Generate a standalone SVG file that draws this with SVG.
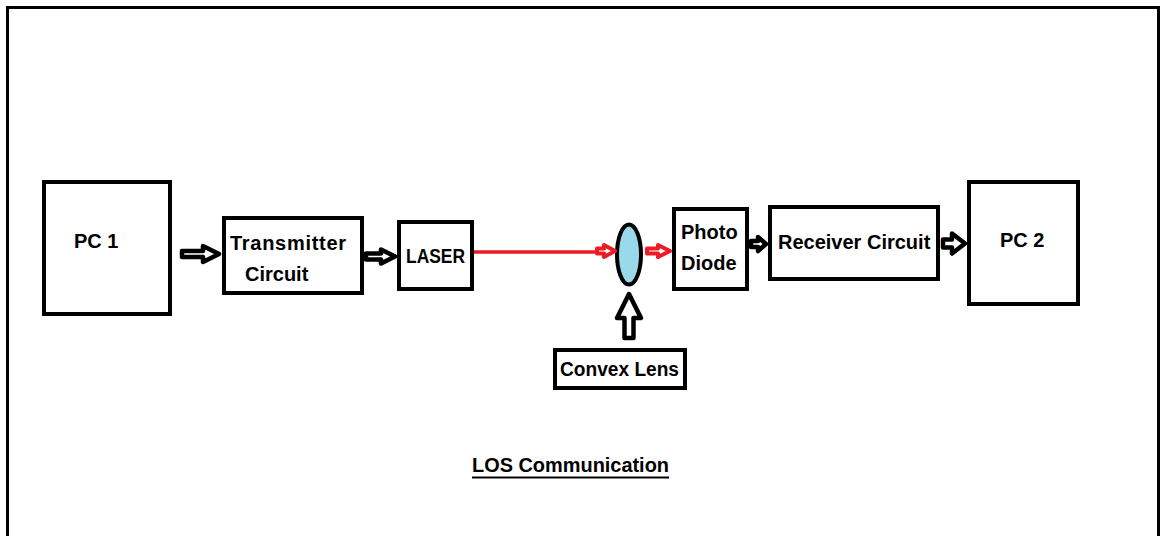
<svg xmlns="http://www.w3.org/2000/svg" width="1162" height="536" viewBox="0 0 1162 536">
<style>
.box{fill:#fff;stroke:#000;stroke-width:4}
.t{font-family:"Liberation Sans",Arial,sans-serif;font-weight:bold;font-size:20px;fill:#000}
.ba{fill:#fff;stroke:#000;stroke-width:4.5;stroke-linejoin:round}
.ra{fill:#fff;stroke:#ed1c24;stroke-width:4;stroke-linejoin:round}
</style>
<rect width="1162" height="536" fill="#fff"/>
<path d="M7.5,536 L7.5,7.5 L1158.5,7.5 L1158.5,536" fill="none" stroke="#000" stroke-width="3"/>
<g id="pc1"><rect class="box" x="44" y="182" width="126" height="132"/><text class="t" x="74" y="248" font-size="19">PC 1</text></g>
<g id="transmitter"><rect class="box" x="224" y="218" width="138" height="75"/><text class="t" x="230" y="250" textLength="116" font-size="20">Transmitter</text><text class="t" x="245" y="281">Circuit</text></g>
<g id="laser"><rect class="box" x="399" y="222" width="73" height="67"/><text class="t" x="406" y="263" font-size="17.5" textLength="59" lengthAdjust="spacingAndGlyphs">LASER</text></g>
<g id="lens"><ellipse cx="629" cy="254.5" rx="12" ry="30" fill="#99d9ea" stroke="#000" stroke-width="4"/></g>
<g id="photodiode"><rect class="box" x="674" y="209" width="73" height="80"/><text class="t" x="681" y="239">Photo</text><text class="t" x="681" y="270">Diode</text></g>
<g id="receiver"><rect class="box" x="770" y="207" width="168" height="72"/><text class="t" x="778" y="249">Receiver Circuit</text></g>
<g id="pc2"><rect class="box" x="969" y="182" width="109" height="122"/><text class="t" x="1000" y="247" font-size="19">PC 2</text></g>
<g id="convexlens"><rect class="box" x="555" y="350" width="130" height="38"/><text class="t" x="560" y="376" font-size="18" textLength="119" lengthAdjust="spacingAndGlyphs">Convex Lens</text></g>
<g id="title"><text class="t" x="472" y="472" font-size="18" textLength="197" lengthAdjust="spacingAndGlyphs">LOS Communication</text><line x1="472" y1="477.5" x2="669" y2="477.5" stroke="#000" stroke-width="2"/></g>
<g id="connectors">
<path class="ba" d="M182,251 L203,251 L203,246 L219,254 L203,262 L203,257 L182,257 Z"/>
<path class="ba" d="M366,253.5 L381,253.5 L381,249.5 L395,256.5 L381,263.5 L381,259.5 L366,259.5 Z"/>
<line x1="474" y1="252" x2="597" y2="252" stroke="#ed1c24" stroke-width="3.5"/>
<path class="ra" d="M597,248.5 L604,248.5 L604,245 L615,251 L604,257 L604,253.5 L597,253.5 Z"/>
<path class="ra" d="M647,248.5 L658,248.5 L658,245 L670,251 L658,257 L658,253.5 L647,253.5 Z"/>
<path class="ba" d="M751,241 L758,241 L758,237 L766,244 L758,251 L758,247 L751,247 Z"/>
<path class="ba" stroke-width="5" d="M943,239.5 L952,239.5 L952,233.5 L965,243.5 L952,253.5 L952,247.5 L943,247.5 Z"/>
<path class="ba" stroke-width="4.5" d="M629,294 L641,318 L633.5,318 L633.5,338 L624.5,338 L624.5,318 L617,318 Z"/>
</g>
</svg>
